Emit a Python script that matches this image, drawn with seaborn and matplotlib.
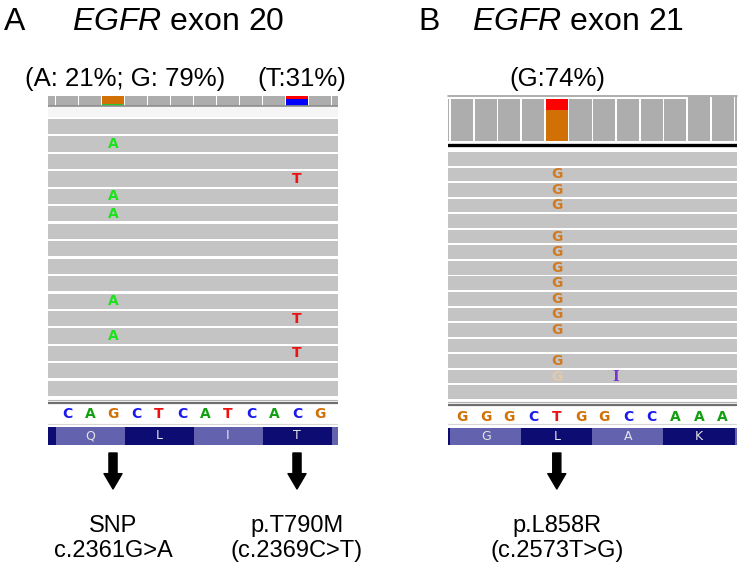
import numpy as np
import pandas as pd
import seaborn as sns
import matplotlib.pyplot as plt

W, H = 738, 565

# ---------------- panel A : EGFR exon 20 ----------------
ref_seq_A = ["C", "A", "G", "C", "T", "C", "A", "T", "C", "A", "C", "G"]
amino_A = ["", "Q", "L", "I", "T", ""]
cov_pos_A = [-1, 0, 1, 2, 3, 4, 5, 6, 7, 8, 9, 10, 11, 12]
cov_depth_A = [16, 16, 16, 16, 16, 16, 16, 16, 16, 16, 16, 16, 16, 16]
# allele fractions shown in the coverage bar (bottom to top)
cov_alleles_A = {2: [("A", 0.21), ("G", 0.79)], 10: [("C", 0.69), ("T", 0.31)]}
read_rows_A = [0, 1, 2, 3, 4, 5, 6, 7, 8, 9, 10, 11, 12, 13, 14, 15]
read_start_A = [-2, -2, -2, -2, -2, -2, -2, -2, -2, -2, -2, -2, -2, -2, -2, -2]
read_end_A = [14, 14, 14, 14, 14, 14, 14, 14, 14, 14, 14, 14, 14, 14, 14, 14]
mism_rows_A = [1, 4, 5, 10, 12, 3, 11, 13]
mism_cols_A = [2, 2, 2, 2, 2, 10, 10, 10]
mism_bases_A = ["A", "A", "A", "A", "A", "T", "T", "T"]
arrow_cols_A = [2, 10]
arrow_text_A = [("SNP", "c.2361G>A"), ("p.T790M", "(c.2369C>T)")]
freq_labels_A = ["(A: 21%; G: 79%)", "(T:31%)"]

# ---------------- panel B : EGFR exon 21 ----------------
ref_seq_B = ["G", "G", "G", "C", "T", "G", "G", "C", "C", "A", "A", "A"]
amino_B = ["", "G", "L", "A", "K", ""]
cov_pos_B = [-1, 0, 1, 2, 3, 4, 5, 6, 7, 8, 9, 10, 11, 12]
cov_depth_B = [16, 16, 16, 16, 16, 16, 16, 16, 16, 16, 16, 17, 17, 17]
cov_alleles_B = {4: [("G", 0.74), ("T", 0.26)]}
read_rows_B = [0, 1, 2, 3, 4, 5, 6, 7, 8, 9, 10, 11, 12, 13, 14, 15]
read_start_B = [-2, -2, -2, -2, -2, -2, -2, -2, -2, -2, -2, -2, -2, -2, -2, -2]
read_end_B = [14, 14, 14, 14, 14, 14, 14, 14, 14, 14, 14, 14, 14, 14, 14, 14]
mism_rows_B = [1, 2, 3, 5, 6, 7, 8, 9, 10, 11, 13, 14]
mism_cols_B = [4, 4, 4, 4, 4, 4, 4, 4, 4, 4, 4, 4]
mism_bases_B = ["G", "G", "G", "G", "G", "G", "G", "G", "G", "G", "G", "g"]  # g = low quality
ins_rows_B = [14]
ins_after_B = [6]
arrow_cols_B = [4]
arrow_text_B = [("p.L858R", "(c.2573T>G)")]
freq_labels_B = ["(G:74%)"]

# colours
READ_GRAY = "#c4c4c4"
COV_GRAY = "#adadad"
COV_COLORS = {"A": "#2cc42c", "C": "#0000ff", "G": "#d17105", "T": "#ff0000"}
MISM_COLORS = {"A": "#1ee11e", "C": "#1a1aee", "G": "#d27a22", "T": "#ee1111", "g": "#e4c9ab"}
REF_COLORS = {"A": "#12a012", "C": "#1a1aee", "G": "#d17105", "T": "#ee1111"}
AA_DARK, AA_LIGHT = "#0c0c72", "#6262ae"
INS_COLOR = "#7a33cc"

sns.set_theme(style="white")
plt.rcParams["font.family"] = ["Liberation Sans", "DejaVu Sans"]
plt.rcParams["text.color"] = "black"
plt.rcParams["mathtext.fontset"] = "custom"
plt.rcParams["mathtext.rm"] = "Liberation Sans"
plt.rcParams["mathtext.it"] = "Liberation Sans:italic"

fig = plt.figure(figsize=(W / 100, H / 100), dpi=100)


def track_axes(x0, x1, y0, y1):
    # place an axes by pixel box (top-left origin)
    ax = fig.add_axes([x0 / W, 1 - y1 / H, (x1 - x0) / W, (y1 - y0) / H])
    ax.set_axis_off()
    return ax


def draw_panel(g, ref_seq, amino, cov_pos, cov_depth, cov_alleles, cov_ymax,
               read_rows, read_start, read_end, mism, ins_rows, ins_after,
               arrow_cols, arrow_text):
    xlim = ((g["x0"] - g["col0"]) / g["colw"], (g["x1"] - g["col0"]) / g["colw"])

    # coverage track
    ax = track_axes(g["x0"], g["x1"], *g["cov"])
    sns.barplot(x=cov_pos, y=cov_depth, native_scale=True, color=COV_GRAY,
                saturation=1, width=0.93, errorbar=None, linewidth=0, ax=ax)
    for col, parts in cov_alleles.items():
        depth = cov_depth[cov_pos.index(col)]
        bottom = 0
        for base, frac in parts:
            ax.bar(col, depth * frac, bottom=bottom, width=0.93,
                   color=COV_COLORS[base], linewidth=0)
            bottom += depth * frac
    ax.set_xlim(xlim)
    ax.set_ylim(0, cov_ymax)
    ax.set_axis_off()
    if g["cov_border"]:
        ax.axhline(cov_ymax, color="#a0a0a0", lw=1.2, clip_on=False)

    # reads
    ax = track_axes(g["x0"], g["x1"], *g["reads"])
    h = g["rowh"] / g["pitch"]

    def to_row(p):
        return (p - g["top0"]) / g["pitch"]

    ax.barh(read_rows, np.subtract(read_end, read_start), left=read_start,
            height=h, align="edge", color=READ_GRAY, linewidth=0)
    for _, r in mism.iterrows():
        ax.text(r["col"], r["row"] + h / 2, r["base"].upper(),
                color=MISM_COLORS[r["base"]], ha="center", va="center",
                fontsize=10, fontweight="bold", family="DejaVu Sans")
    for row, after in zip(ins_rows, ins_after):
        ax.text(after + 0.5, row + h / 2, "I", color=INS_COLOR, ha="center",
                va="center", fontsize=10, fontweight="bold", family="DejaVu Serif")
    ax.axhline(to_row(g["sep_y"]), color=g["sep_color"], lw=g["sep_lw"])
    if g["band"]:
        ax.axhspan(to_row(107.3), to_row(117), color="#f5f5f5", lw=0)
    ax.set_xlim(xlim)
    ax.set_ylim(to_row(g["reads"][1]), to_row(g["reads"][0]))

    # reference sequence
    ax = track_axes(g["x0"], g["x1"], *g["ref"])
    ax.set_xlim(xlim)
    ax.set_ylim(g["ref"][1], g["ref"][0])
    ax.axhline(g["ref_lines"][0], color="#b0b0b0", lw=0.8)
    ax.axhline(g["ref_lines"][1], color="#6e6e6e", lw=1.6)
    ax.axhline(g["ref_rule"], color="#d6d6d6", lw=0.8)
    for i, b in enumerate(ref_seq):
        ax.text(i, g["ref_text"], b, color=REF_COLORS[b], ha="center", va="center",
                fontsize=10, fontweight="bold", family="DejaVu Sans")

    # amino acids (codons start at column -3)
    ax = track_axes(g["x0"], g["x1"], *g["aa"])
    centers = [-2 + 3 * k for k in range(len(amino))]
    colors = [AA_DARK if k % 2 == 0 else AA_LIGHT for k in range(len(amino))]
    ax.bar(centers, [1] * len(amino), width=3, color=colors, linewidth=0)
    for c, aa in zip(centers, amino):
        ax.text(c, 0.5, aa, color="#e4e4e4", ha="center", va="center",
                fontsize=9, family="DejaVu Sans")
    ax.set_xlim(xlim)
    ax.set_ylim(0, 1)

    # arrows and mutation names
    ax = track_axes(g["x0"], g["x1"], 445, 565)
    ax.set_xlim(xlim)
    ax.set_ylim(565, 445)
    for col, (l1, l2) in zip(arrow_cols, arrow_text):
        ax.annotate("", xy=(col, 489), xytext=(col, 453),
                    arrowprops=dict(arrowstyle="simple,head_length=0.85,head_width=1.0,tail_width=0.45",
                                    mutation_scale=13, color="black", shrinkA=0, shrinkB=0))
        ax.text(col, 532, l1, ha="center", va="baseline", fontsize=17)
        ax.text(col, 557, l2, ha="center", va="baseline", fontsize=17)


geom_A = dict(x0=48, x1=338, col0=67, colw=23, cov=(96, 105.5), cov_border=False,
              reads=(104.5, 398), top0=119, pitch=17.45, rowh=15.2,
              sep_y=106, sep_color="#8c8c8c", sep_lw=1.2, band=True,
              ref=(398, 426), ref_lines=(400, 403), ref_text=414, ref_rule=423.5,
              aa=(427, 444.5))
geom_B = dict(x0=448, x1=737, col0=462, colw=23.7, cov=(96, 141), cov_border=True,
              reads=(141, 400.5), top0=152, pitch=15.56, rowh=13.6,
              sep_y=144.5, sep_color="black", sep_lw=2.4, band=False,
              ref=(400.5, 426), ref_lines=(401.5, 404.5), ref_text=417, ref_rule=423.5,
              aa=(428, 444.5))

mism_A = pd.DataFrame({"row": mism_rows_A, "col": mism_cols_A, "base": mism_bases_A})
mism_B = pd.DataFrame({"row": mism_rows_B, "col": mism_cols_B, "base": mism_bases_B})

draw_panel(geom_A, ref_seq_A, amino_A, cov_pos_A, cov_depth_A, cov_alleles_A, 16,
           read_rows_A, read_start_A, read_end_A, mism_A, [], [],
           arrow_cols_A, arrow_text_A)
draw_panel(geom_B, ref_seq_B, amino_B, cov_pos_B, cov_depth_B, cov_alleles_B, 17.3,
           read_rows_B, read_start_B, read_end_B, mism_B, ins_rows_B, ins_after_B,
           arrow_cols_B, arrow_text_B)

# titles and allele frequency labels
fig.text(4 / W, 1 - 30 / H, "A", fontsize=23, va="baseline")
fig.text(72 / W, 1 - 30 / H, r"$\mathit{EGFR}$ exon 20", fontsize=23, va="baseline")
fig.text(418 / W, 1 - 30 / H, "B", fontsize=23, va="baseline")
fig.text(472 / W, 1 - 30 / H, r"$\mathit{EGFR}$ exon 21", fontsize=23, va="baseline")

fig.text(125 / W, 1 - 86 / H, freq_labels_A[0], fontsize=18.5, ha="center", va="baseline")
fig.text(302 / W, 1 - 86 / H, freq_labels_A[1], fontsize=18.5, ha="center", va="baseline")
fig.text(557 / W, 1 - 86 / H, freq_labels_B[0], fontsize=18.5, ha="center", va="baseline")

fig.savefig("out.png", dpi=100)
